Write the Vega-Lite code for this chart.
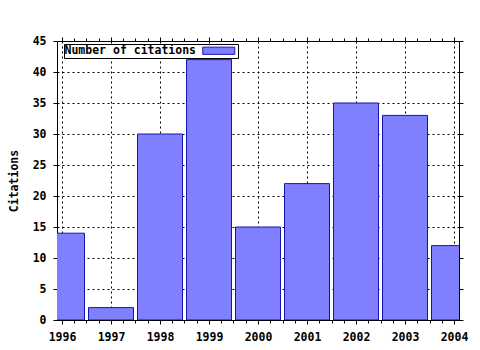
{
  "$schema": "https://vega.github.io/schema/vega-lite/v6.json",
  "width": 402,
  "height": 279,
  "autosize": {"type": "none"},
  "padding": {"left": 57, "top": 41, "right": 21, "bottom": 30},
  "background": "white",
  "config": {
    "view": {"stroke": "black", "strokeWidth": 1},
    "font": "DejaVu Sans Mono",
    "axis": {
      "labelFont": "DejaVu Sans Mono",
      "labelFontWeight": "bold",
      "labelFontSize": 11.5,
      "labelColor": "black",
      "titleFont": "DejaVu Sans Mono",
      "titleFontWeight": "bold",
      "titleFontSize": 11.5,
      "titleColor": "black",
      "domainColor": "black",
      "tickColor": "black",
      "gridColor": "black",
      "gridDash": [2, 3],
      "gridOpacity": 1
    }
  },
  "data": {
    "values": [
      {"year": 1996, "citations": 14, "series": "Number of citations"},
      {"year": 1997, "citations": 2, "series": "Number of citations"},
      {"year": 1998, "citations": 30, "series": "Number of citations"},
      {"year": 1999, "citations": 42, "series": "Number of citations"},
      {"year": 2000, "citations": 15, "series": "Number of citations"},
      {"year": 2001, "citations": 22, "series": "Number of citations"},
      {"year": 2002, "citations": 35, "series": "Number of citations"},
      {"year": 2003, "citations": 33, "series": "Number of citations"},
      {"year": 2004, "citations": 12, "series": "Number of citations"}
    ]
  },
  "layer": [
    {
      "mark": {"type": "bar", "orient": "vertical", "width": 45, "stroke": "#1414b0", "strokeWidth": 1, "clip": true},
      "encoding": {
        "x": {
          "field": "year", "type": "quantitative",
          "scale": {"domain": [1996, 2004], "nice": false, "zero": false},
          "axis": {
            "title": null,
            "values": [1996, 1996.25, 1996.5, 1996.75, 1997, 1997.25, 1997.5, 1997.75, 1998, 1998.25, 1998.5, 1998.75, 1999, 1999.25, 1999.5, 1999.75, 2000, 2000.25, 2000.5, 2000.75, 2001, 2001.25, 2001.5, 2001.75, 2002, 2002.25, 2002.5, 2002.75, 2003, 2003.25, 2003.5, 2003.75, 2004],
            "labelExpr": "datum.value % 1 == 0 ? format(datum.value, 'd') : ''",
            "labelOverlap": false,
            "labelPadding": 7,
            "tickSize": {"condition": {"test": "datum.value % 1 == 0", "value": 4}, "value": 3},
            "gridOpacity": {"condition": {"test": "datum.value % 1 == 0", "value": 1}, "value": 0},
            "grid": true
          }
        },
        "y": {
          "field": "citations", "type": "quantitative",
          "scale": {"domain": [0, 45], "nice": false},
          "axis": {
            "title": "Citations",
            "values": [0, 5, 10, 15, 20, 25, 30, 35, 40, 45],
            "tickSize": 4,
            "labelPadding": 7,
            "titlePadding": 13,
            "grid": true
          }
        },
        "color": {
          "field": "series", "type": "nominal",
          "scale": {"range": ["#8080ff"]},
          "legend": {
            "title": null,
            "orient": "none",
            "legendX": 7,
            "legendY": 3,
            "padding": 1,
            "strokeColor": "black",
            "fillColor": "white",
            "labelFont": "DejaVu Sans Mono",
            "labelFontWeight": "bold",
            "labelFontSize": 11.5,
            "labelColor": "black",
            "labelOffset": -160,
            "symbolOffset": 148,
            "symbolSize": 64,
            "symbolType": "M-4,-0.9H4V0.9H-4Z",
            "symbolFillColor": "#8080ff",
            "symbolStrokeColor": "#1414b0",
            "symbolStrokeWidth": 1
          }
        }
      }
    },
    {
      "mark": {"type": "bar", "orient": "vertical", "width": 45, "opacity": 0},
      "encoding": {
        "x": {
          "field": "year", "type": "quantitative",
          "scale": {"domain": [1996, 2004], "nice": false, "zero": false},
          "axis": {
            "orient": "top",
            "title": null,
            "labels": false,
            "domain": false,
            "values": [1996, 1996.25, 1996.5, 1996.75, 1997, 1997.25, 1997.5, 1997.75, 1998, 1998.25, 1998.5, 1998.75, 1999, 1999.25, 1999.5, 1999.75, 2000, 2000.25, 2000.5, 2000.75, 2001, 2001.25, 2001.5, 2001.75, 2002, 2002.25, 2002.5, 2002.75, 2003, 2003.25, 2003.5, 2003.75, 2004],
            "tickSize": {"condition": {"test": "datum.value % 1 == 0", "value": 4}, "value": 3},
            "grid": false
          }
        },
        "y": {
          "field": "citations", "type": "quantitative",
          "scale": {"domain": [0, 45], "nice": false},
          "axis": {
            "orient": "right",
            "title": null,
            "labels": false,
            "domain": false,
            "values": [0, 5, 10, 15, 20, 25, 30, 35, 40, 45],
            "tickSize": 4,
            "grid": false
          }
        }
      }
    }
  ],
  "resolve": {"axis": {"x": "independent", "y": "independent"}}
}
